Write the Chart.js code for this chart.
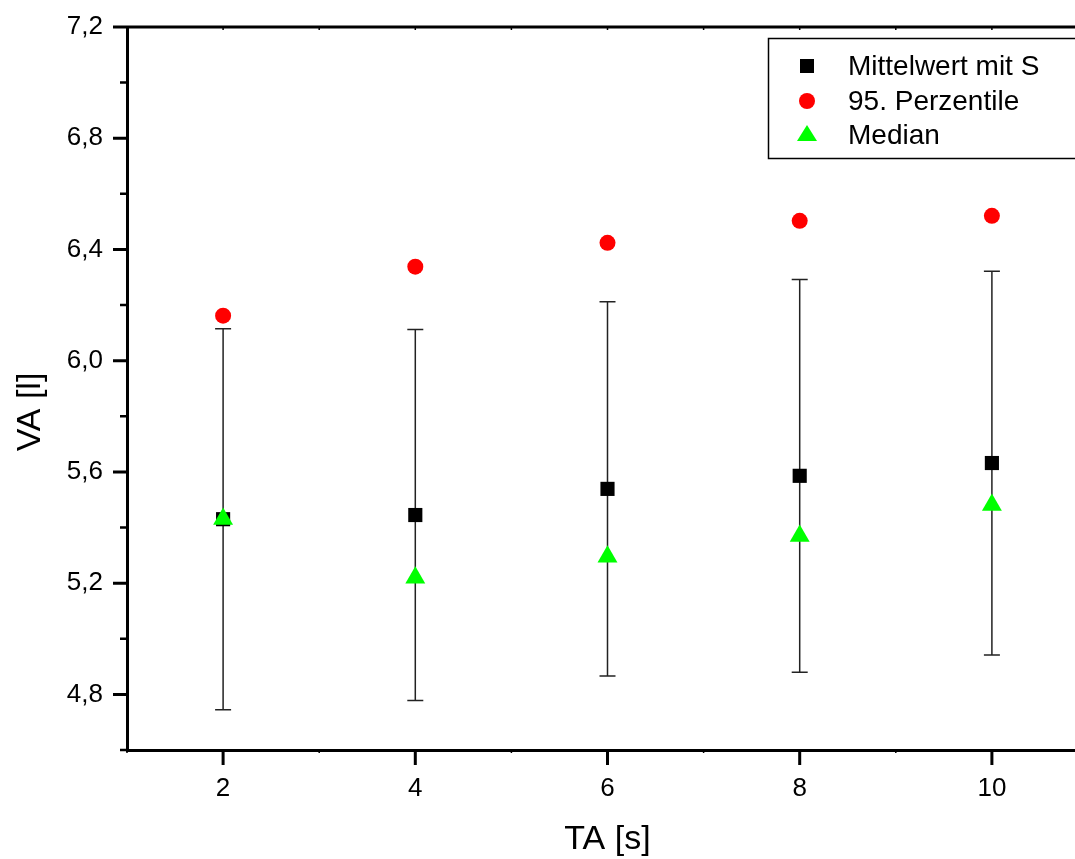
<!DOCTYPE html>
<html>
<head>
<meta charset="utf-8">
<script src="https://cdn.jsdelivr.net/npm/chart.js@4/dist/chart.umd.min.js"></script>
<style>
  html, body { margin: 0; padding: 0; overflow: hidden; background: #fff; }
  canvas { display: block; }
</style>
</head>
<body>
<canvas id="chart" width="1100" height="859"></canvas>
<script>
const FONT = '"Liberation Sans", Arial, sans-serif';

// data
const taValues = [2, 4, 6, 8, 10];
const meanValues = [5.430, 5.445, 5.539, 5.586, 5.632];
const sdValues = [0.685, 0.667, 0.673, 0.706, 0.690];
const p95Values = [6.162, 6.338, 6.424, 6.503, 6.521];
const medianValues = [5.431, 5.219, 5.295, 5.370, 5.481];
const xTicks = [2, 4, 6, 8, 10];
const yTicks = [4.8, 5.2, 5.6, 6.0, 6.4, 6.8, 7.2];
const yMinorTicks = [4.6, 5.0, 5.4, 5.8, 6.2, 6.6, 7.0];
const xMinorTicks = [1, 3, 5, 7, 9, 11];

const toPoints = vals => taValues.map((x, i) => ({ x: x, y: vals[i] }));

/* error bars (mean +- S) under the markers */
const errorBars = {
  id: 'errorBars',
  beforeDatasetsDraw(chart) {
    const ctx = chart.ctx, xs = chart.scales.x, ys = chart.scales.y;
    ctx.save();
    ctx.strokeStyle = '#222';
    ctx.lineWidth = 1.5;
    taValues.forEach((t, i) => {
      const px = xs.getPixelForValue(t);
      const top = ys.getPixelForValue(meanValues[i] + sdValues[i]);
      const bot = ys.getPixelForValue(meanValues[i] - sdValues[i]);
      ctx.beginPath();
      ctx.moveTo(px, top); ctx.lineTo(px, bot);
      ctx.moveTo(px - 8, top); ctx.lineTo(px + 8, top);
      ctx.moveTo(px - 8, bot); ctx.lineTo(px + 8, bot);
      ctx.stroke();
    });
    ctx.restore();
  }
};

/* frame, tick marks, axis titles, legend box */
const frame = {
  id: 'frame',
  afterDraw(chart) {
    const ctx = chart.ctx, xs = chart.scales.x, ys = chart.scales.y;
    const a = chart.chartArea;
    ctx.save();
    ctx.strokeStyle = '#000';
    ctx.lineCap = 'butt';

    // top border
    ctx.lineWidth = 3;
    ctx.beginPath();
    ctx.moveTo(a.left, a.top); ctx.lineTo(a.right, a.top);
    ctx.stroke();

    // y ticks
    ctx.beginPath();
    yTicks.forEach(v => {
      const py = ys.getPixelForValue(v);
      ctx.moveTo(a.left - 14, py); ctx.lineTo(a.left, py);
    });
    ctx.stroke();
    ctx.lineWidth = 2.5;
    ctx.beginPath();
    yMinorTicks.forEach(v => {
      const py = ys.getPixelForValue(v);
      ctx.moveTo(a.left - 7, py); ctx.lineTo(a.left, py);
    });
    ctx.stroke();

    // x ticks
    ctx.lineWidth = 3;
    ctx.beginPath();
    xTicks.forEach(v => {
      const px = xs.getPixelForValue(v);
      ctx.moveTo(px, a.bottom); ctx.lineTo(px, a.bottom + 15);
    });
    ctx.stroke();
    ctx.lineWidth = 1.5;
    ctx.beginPath();
    xMinorTicks.forEach(v => {
      const px = xs.getPixelForValue(v);
      ctx.moveTo(px, a.bottom); ctx.lineTo(px, a.bottom + 3);
    });
    // tiny inward ticks on top border
    xTicks.concat(xMinorTicks).forEach(v => {
      const px = xs.getPixelForValue(v);
      ctx.moveTo(px, a.top); ctx.lineTo(px, a.top + 3);
    });
    ctx.stroke();

    // axis titles
    ctx.fillStyle = '#000';
    ctx.font = '34px ' + FONT;
    ctx.textAlign = 'center';
    ctx.textBaseline = 'middle';
    ctx.fillText('TA [s]', (a.left + a.right) / 2, 840);
    ctx.save();
    ctx.translate(31, 412);
    ctx.rotate(-Math.PI / 2);
    ctx.fillText('VA [l]', 0, 0);
    ctx.restore();

    // legend
    ctx.lineWidth = 1.5;
    ctx.fillStyle = '#fff';
    ctx.fillRect(768, 38, 340, 120);
    ctx.strokeRect(768.5, 38.5, 340, 120);
    ctx.font = '28px ' + FONT;
    ctx.textAlign = 'left';
    const rows = [66, 101, 135];
    chart.data.datasets.forEach((ds, i) => {
      const cy = rows[i], cx = 807;
      ctx.fillStyle = ds.backgroundColor;
      ctx.beginPath();
      if (ds.pointStyle === 'rect') {
        ctx.rect(cx - 7, cy - 7, 14, 14);
      } else if (ds.pointStyle === 'circle') {
        ctx.arc(cx, cy, 8, 0, Math.PI * 2);
      } else {
        ctx.moveTo(cx, cy - 10);
        ctx.lineTo(cx + 10, cy + 6);
        ctx.lineTo(cx - 10, cy + 6);
        ctx.closePath();
      }
      ctx.fill();
      ctx.fillStyle = '#000';
      ctx.fillText(ds.label, 848, cy + 1);
    });
    ctx.restore();
  }
};

new Chart(document.getElementById('chart'), {
  type: 'scatter',
  data: {
    datasets: [
      {
        label: 'Mittelwert mit S',
        data: toPoints(meanValues),
        pointStyle: 'rect',
        pointRadius: 10,
        backgroundColor: '#000000',
        borderColor: '#000000',
        borderWidth: 0,
        order: 3
      },
      {
        label: '95. Perzentile',
        data: toPoints(p95Values),
        pointStyle: 'circle',
        pointRadius: 8,
        backgroundColor: '#ff0000',
        borderColor: '#ff0000',
        borderWidth: 0,
        order: 2
      },
      {
        label: 'Median',
        data: toPoints(medianValues),
        pointStyle: 'triangle',
        pointRadius: 11.5,
        backgroundColor: '#00ff00',
        borderColor: '#00ff00',
        borderWidth: 0,
        order: 1
      }
    ]
  },
  options: {
    responsive: false,
    animation: false,
    layout: { padding: { top: 27, right: 12, left: 0, bottom: 0 } },
    plugins: {
      legend: { display: false },
      tooltip: { enabled: false }
    },
    scales: {
      x: {
        type: 'linear',
        min: 1,
        max: 11,
        afterFit: s => { s.height = 109; },
        afterBuildTicks: s => { s.ticks = xTicks.map(v => ({ value: v })); },
        border: { display: true, color: '#000', width: 3 },
        grid: { display: true, drawOnChartArea: false, drawTicks: true, tickLength: 15, tickColor: 'rgba(0,0,0,0)' },
        ticks: {
          color: '#000',
          padding: 8,
          maxRotation: 0,
          font: { family: FONT, size: 26 },
          callback: v => String(v)
        }
      },
      y: {
        type: 'linear',
        min: 4.6,
        max: 7.2,
        afterFit: s => { s.width = 127; },
        afterBuildTicks: s => { s.ticks = yTicks.map(v => ({ value: v })); },
        border: { display: true, color: '#000', width: 3 },
        grid: { display: true, drawOnChartArea: false, drawTicks: true, tickLength: 14, tickColor: 'rgba(0,0,0,0)' },
        ticks: {
          color: '#000',
          padding: 10,
          font: { family: FONT, size: 26 },
          callback: v => v.toFixed(1).replace('.', ',')
        }
      }
    }
  },
  plugins: [errorBars, frame]
});
</script>
</body>
</html>
